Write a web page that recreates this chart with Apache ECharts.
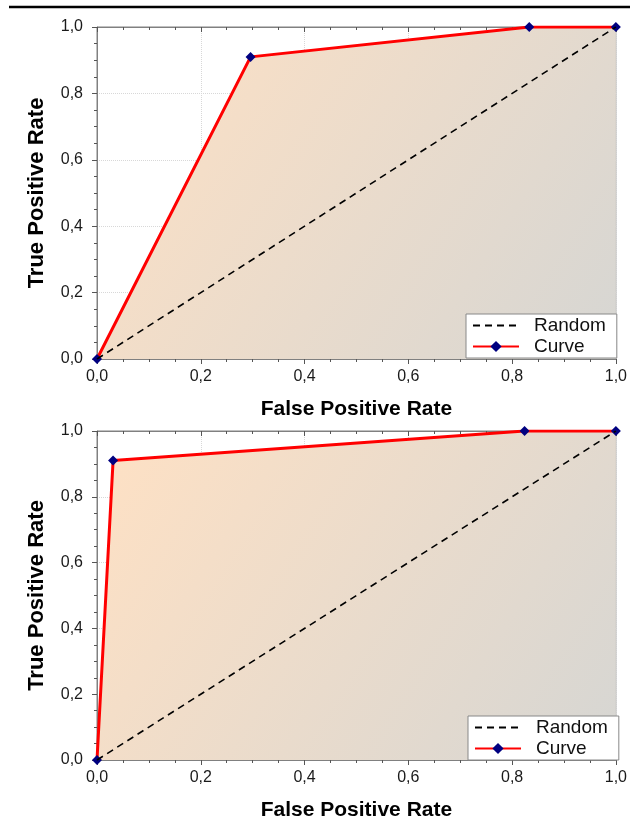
<!DOCTYPE html>
<html>
<head>
<meta charset="utf-8">
<title>ROC curves</title>
<script src="https://cdn.jsdelivr.net/npm/echarts@6/dist/echarts.min.js"></script>
<style>
  html, body { margin: 0; padding: 0; background: #fff; }
  #chart { width: 630px; height: 822px; }
</style>
</head>
<body>
<div id="chart"></div>
<script>
// 数据
const fprTop = [0, 0.296, 0.833, 1];
const tprTop = [0, 0.91, 1, 1];
const fprBottom = [0, 0.031, 0.824, 1];
const tprBottom = [0, 0.91, 1, 1];
const randomFpr = [0, 1];
const randomTpr = [0, 1];
const seriesNames = ['Random', 'Curve'];

const chart = echarts.init(document.getElementById('chart'));

const fmt = v => v.toFixed(1).replace('.', ',');
const pairs = (xs, ys) => xs.map((x, i) => [x, ys[i]]);

// 公共坐标轴配置
function xAxisBottom(gridIndex) {
  return {
    type: 'value', gridIndex, min: 0, max: 1, interval: 0.2,
    name: 'False Positive Rate', nameLocation: 'middle', nameGap: 40,
    nameTextStyle: { fontSize: 21, fontWeight: 'bold', color: '#000', fontFamily: 'Liberation Sans' },
    axisLine: { lineStyle: { color: '#808080' } },
    axisTick: { length: 5, lineStyle: { color: '#555' } },
    minorTick: { show: true, splitNumber: 4, length: 3, lineStyle: { color: '#555' } },
    axisLabel: { formatter: fmt, fontSize: 16, color: '#1a1a1a', margin: 10, fontFamily: 'Liberation Sans' },
    splitLine: { show: true, lineStyle: { color: '#d8d8d8', type: 'dotted' } }
  };
}
function xAxisTop(gridIndex) {
  return {
    type: 'value', gridIndex, position: 'top', min: 0, max: 1, interval: 0.2,
    axisLine: { lineStyle: { color: '#808080' } },
    axisTick: { inside: true, length: 5, lineStyle: { color: '#555' } },
    minorTick: { show: true, splitNumber: 4, length: 3, lineStyle: { color: '#555' } },
    axisLabel: { show: false },
    splitLine: { show: false }
  };
}
function yAxisLeft(gridIndex) {
  return {
    type: 'value', gridIndex, min: 0, max: 1, interval: 0.2,
    name: 'True Positive Rate', nameLocation: 'middle', nameGap: 49,
    nameTextStyle: { fontSize: 22, fontWeight: 'bold', color: '#000', fontFamily: 'Liberation Sans' },
    axisLine: { lineStyle: { color: '#808080' } },
    axisTick: { length: 5, lineStyle: { color: '#555' } },
    minorTick: { show: true, splitNumber: 4, length: 3, lineStyle: { color: '#555' } },
    axisLabel: { formatter: fmt, fontSize: 16, color: '#1a1a1a', margin: 14, fontFamily: 'Liberation Sans' },
    splitLine: { show: true, lineStyle: { color: '#d8d8d8', type: 'dotted' } }
  };
}

const areaGradient = new echarts.graphic.LinearGradient(0, 0, 1, 1, [
  { offset: 0, color: '#ffe1c4' },
  { offset: 1, color: '#d6d6d3' }
]);

function curveSeries(idx, xs, ys) {
  return {
    name: 'Curve', type: 'line', xAxisIndex: idx * 2, yAxisIndex: idx,
    data: pairs(xs, ys),
    symbol: 'diamond', symbolSize: 10, showSymbol: true,
    itemStyle: { color: '#000080' },
    lineStyle: { color: '#ff0000', width: 3 },
    areaStyle: { color: areaGradient, opacity: 1 },
    z: 2
  };
}
function randomSeries(idx) {
  return {
    name: 'Random', type: 'line', xAxisIndex: idx * 2, yAxisIndex: idx,
    data: pairs(randomFpr, randomTpr),
    symbol: 'none',
    itemStyle: { color: 'rgba(0,0,0,0)' },
    lineStyle: { color: '#000', width: 1.6, type: [7, 5] },
    z: 3
  };
}

function legendAt(left, top) {
  return {
    data: [{ name: 'Random', itemStyle: { opacity: 0 } }, { name: 'Curve' }],
    orient: 'vertical', left, top,
    backgroundColor: '#fff', borderColor: '#888', borderWidth: 1, borderRadius: 0,
    padding: [2, 11, 2, 6], itemGap: 2, itemWidth: 46, itemHeight: 14,
    textStyle: { fontSize: 19, color: '#111', fontFamily: 'Liberation Sans', padding: [0, 0, 0, 10] },
    selectedMode: false
  };
}

const option = {
  animation: false,
  grid: [
    { left: 97, top: 27, width: 523, height: 332, show: true, borderColor: '#808080', borderWidth: 1, backgroundColor: '#fff' },
    { left: 97, top: 431, width: 523, height: 331, show: true, borderColor: '#808080', borderWidth: 1, backgroundColor: '#fff' }
  ],
  xAxis: [xAxisBottom(0), xAxisTop(0), xAxisBottom(1), xAxisTop(1)],
  yAxis: [yAxisLeft(0), yAxisLeft(1)],
  legend: [legendAt(466, 314), legendAt(468, 716)],
  graphic: [
    { type: 'line', shape: { x1: 9, y1: 7, x2: 630, y2: 7 }, style: { stroke: '#000', lineWidth: 2.5 } }
  ],
  series: [
    curveSeries(0, fprTop, tprTop),
    randomSeries(0),
    curveSeries(1, fprBottom, tprBottom),
    randomSeries(1)
  ]
};

chart.setOption(option);
</script>
</body>
</html>
